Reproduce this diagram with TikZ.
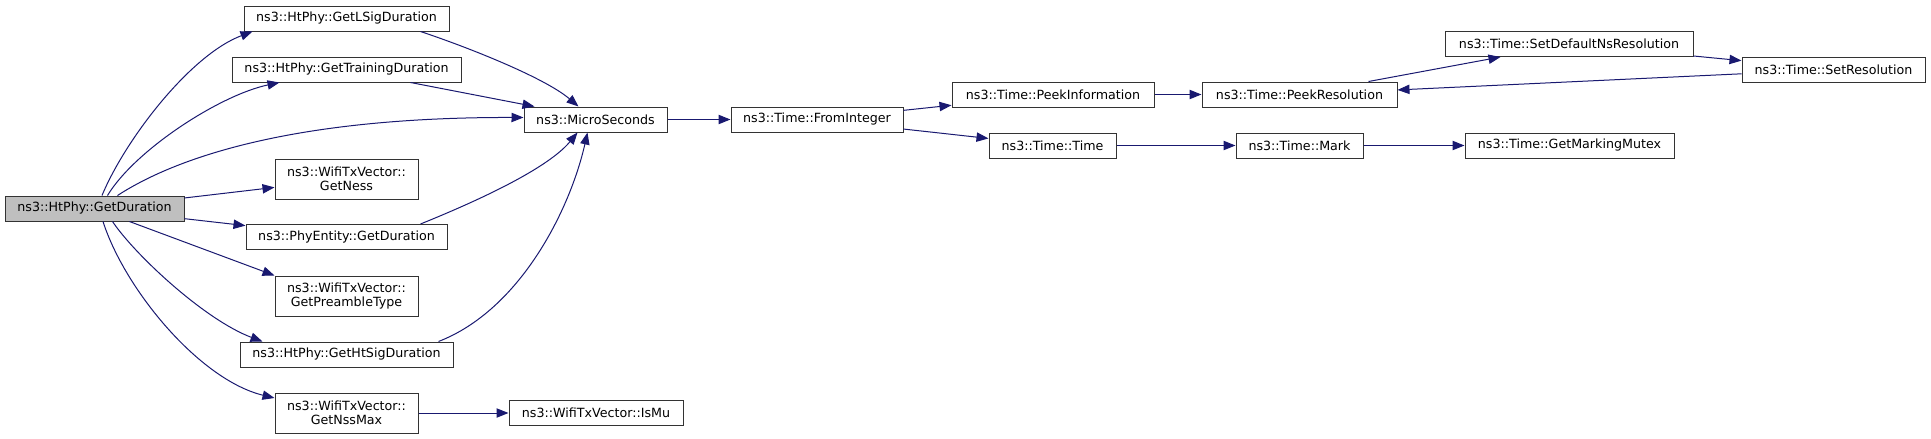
\documentclass[tikz,border=0pt]{standalone}
\usepackage{fontspec}
\setmainfont{DejaVu Sans}
\usetikzlibrary{arrows.meta}
\usetikzlibrary{calc}
\definecolor{edgeblue}{HTML}{191970}
\definecolor{boxgray}{HTML}{BFBFBF}
\tikzset{
    func/.style={
        draw=black!80,
        fill=white,
        line width=0.75pt,
        minimum height=18.75pt,
        inner sep=0pt,
        font=\fontsize{9.5}{10.5}\selectfont
    },
    func2/.style={
        func,
        minimum height=30pt,
        align=center
    },
    call/.style={
        draw=edgeblue,
        line width=0.75pt,
        -{Triangle[length=9pt, width=7pt]}
    }
}

\begin{document}
\begin{tikzpicture}[x=0.75pt, y=-0.75pt]
  \useasboundingbox (0,0) rectangle (1931,439);

  % Caller node
  \node[func, fill=boxgray, minimum width=134.25pt] (gd) at (94.5,208.5) {ns3::HtPhy::GetDuration};

  % First level callees
  \node[func, minimum width=153.75pt] (lsig) at (346.5,18.5) {ns3::HtPhy::GetLSigDuration};
  \node[func, minimum width=171.75pt] (train) at (346.5,69.5) {ns3::HtPhy::GetTrainingDuration};
  \node[func2, minimum width=107.25pt] (ness) at (346.5,179) {ns3::WifiTxVector::\\GetNess};
  \node[func, minimum width=150.75pt] (phy) at (346.5,237) {ns3::PhyEntity::GetDuration};
  \node[func2, minimum width=107.25pt] (pre) at (346.5,296) {ns3::WifiTxVector::\\GetPreambleType};
  \node[func, minimum width=159.75pt] (htsig) at (346.5,354.5) {ns3::HtPhy::GetHtSigDuration};
  \node[func2, minimum width=107.25pt] (nss) at (346.5,413) {ns3::WifiTxVector::\\GetNssMax};

  % Second level
  \node[func, minimum width=107.25pt] (micro) at (595.5,119.5) {ns3::MicroSeconds};
  \node[func, minimum width=130.5pt] (ismu) at (596,413) {ns3::WifiTxVector::IsMu};

  % Time functions
  \node[func, minimum width=129pt] (fromint) at (817,119.5) {ns3::Time::FromInteger};
  \node[func, minimum width=151.5pt] (peekinfo) at (1053,94.5) {ns3::Time::PeekInformation};
  \node[func, minimum width=95.25pt] (time) at (1052.5,145.5) {ns3::Time::Time};
  \node[func, minimum width=146.25pt] (peekres) at (1299.5,94.5) {ns3::Time::PeekResolution};
  \node[func, minimum width=95.25pt] (mark) at (1299.5,145.5) {ns3::Time::Mark};
  \node[func, minimum width=186pt] (setdef) at (1569,44) {ns3::Time::SetDefaultNsResolution};
  \node[func, minimum width=137.25pt] (setres) at (1833.5,69.5) {ns3::Time::SetResolution};
  \node[func, minimum width=156.75pt] (mutex) at (1569.5,145.5) {ns3::Time::GetMarkingMutex};

  % Calls from the caller
  \draw[call] ($(gd.north)+(7.5,0)$) .. controls (125,140) and (190,55) .. ($(lsig.south west)+(9,0)$);
  \draw[call] ($(gd.north)+(13,0)$) .. controls (135,150) and (220,95) .. ($(train.south west)+(48,0)$);
  \draw[call] ($(gd.north)+(23,0)$) .. controls (180,155) and (300,117) .. ($(micro.west)+(0,-2)$);
  \draw[call] (gd) -- (ness);
  \draw[call] (gd) -- (phy);
  \draw[call] (gd) -- (pre.north west);
  \draw[call] ($(gd.south)+(18,0)$) .. controls (135,255) and (205,320) .. ($(htsig.north west)+(23,0)$);
  \draw[call] ($(gd.south)+(8.5,0)$) .. controls (125,290) and (200,380) .. ($(nss.west)+(0,-15)$);

  % Calls into MicroSeconds
  \draw[call] ($(lsig.south east)+(-29,0)$) .. controls (470,48) and (545,78) .. ($(micro.north)+(-17,0)$);
  \draw[call] ($(train.south east)+(-51,0)$) -- ($(micro.north west)+(11,0)$);
  \draw[call] ($(phy.north east)+(-27,0)$) .. controls (460,208) and (545,172) .. ($(micro.south)+(-18,0)$);
  \draw[call] ($(htsig.north east)+(-15,0)$) .. controls (520,310) and (570,210) .. ($(micro.south)+(-8,0)$);
  \draw[call] (nss) -- (ismu);

  % Time calls
  \draw[call] (micro) -- (fromint);
  \draw[call] (fromint) -- (peekinfo);
  \draw[call] (fromint) -- (time);
  \draw[call] (peekinfo) -- (peekres);
  \draw[call] (time) -- (mark);
  \draw[call] (mark) -- (mutex);
  \draw[call] ($(peekres.north east)+(-29,0)$) -- ($(setdef.south west)+(56,0)$);
  \draw[call] (setdef) -- (setres);
  \draw[call] (setres) -- (peekres);
\end{tikzpicture}
\end{document}
